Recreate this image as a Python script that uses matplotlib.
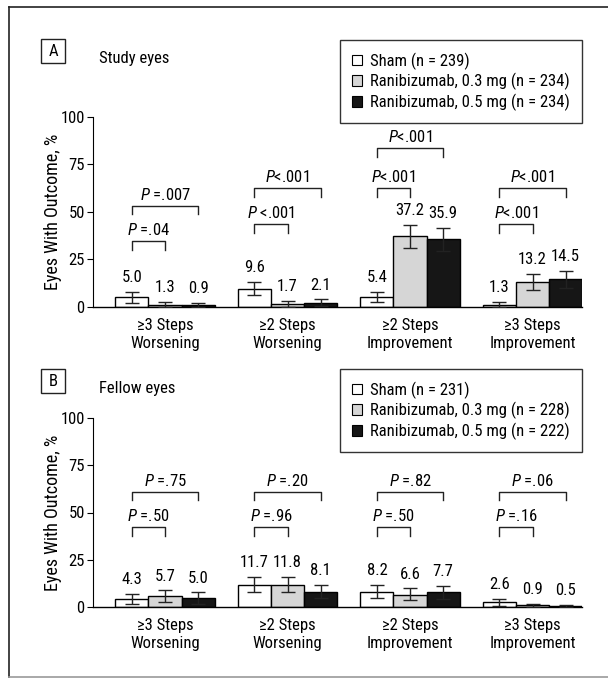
import numpy as np
import matplotlib
matplotlib.use('Agg')
import matplotlib.pyplot as plt
from matplotlib import font_manager
from matplotlib.patches import Rectangle, Patch
from matplotlib.lines import Line2D

# pick the narrowest family that is installed
fam = 'DejaVu Sans'
for f in ['Roboto Condensed', 'Liberation Sans Narrow', 'Roboto']:
    try:
        font_manager.findfont(f, fallback_to_default=False)
        fam = f
        break
    except ValueError:
        pass
fs = 12 if fam in ('Roboto Condensed', 'Liberation Sans Narrow') else 10

plt.rcParams['font.family'] = [fam, 'DejaVu Sans']
plt.rcParams['font.size'] = fs
plt.rcParams['mathtext.fontset'] = 'custom'
plt.rcParams['mathtext.it'] = fam + ':italic'
plt.rcParams['mathtext.rm'] = fam

categories = ['≥3 Steps\nWorsening', '≥2 Steps\nWorsening',
              '≥2 Steps\nImprovement', '≥3 Steps\nImprovement']

# panel A - study eyes
labels_a = ['Sham (n = 239)', 'Ranibizumab, 0.3 mg (n = 234)', 'Ranibizumab, 0.5 mg (n = 234)']
sham_a = [5.0, 9.6, 5.4, 1.3]
r03_a = [1.3, 1.7, 37.2, 13.2]
r05_a = [0.9, 2.1, 35.9, 14.5]
sham_a_lo = [2.3, 6.2, 2.6, 0.2]
sham_a_hi = [7.9, 13.3, 8.1, 2.8]
r03_a_lo = [0.2, 0.2, 31.0, 8.9]
r03_a_hi = [2.8, 3.3, 43.1, 17.4]
r05_a_lo = [0.1, 0.3, 29.7, 10.2]
r05_a_hi = [2.1, 4.0, 41.7, 18.9]
p_near_a = ['$\\mathit{P}$ =.04', '$\\mathit{P}$ <.001', '$\\mathit{P}$<.001', '$\\mathit{P}$<.001']
p_far_a = ['$\\mathit{P}$ =.007', '$\\mathit{P}$<.001', '$\\mathit{P}$<.001', '$\\mathit{P}$<.001']
near_lvl_a = [34.6, 43.5, 62.5, 43.5]
far_lvl_a = [53.3, 62.5, 83.5, 62.5]

# panel B - fellow eyes
labels_b = ['Sham (n = 231)', 'Ranibizumab, 0.3 mg (n = 228)', 'Ranibizumab, 0.5 mg (n = 222)']
sham_b = [4.3, 11.7, 8.2, 2.6]
r03_b = [5.7, 11.8, 6.6, 0.9]
r05_b = [5.0, 8.1, 7.7, 0.5]
sham_b_lo = [1.4, 7.8, 4.9, 0.5]
sham_b_hi = [7.1, 15.9, 11.6, 4.4]
r03_b_lo = [2.5, 7.8, 3.5, 0.1]
r03_b_hi = [8.8, 15.9, 9.9, 1.8]
r05_b_lo = [1.8, 4.8, 4.2, 0.1]
r05_b_hi = [7.8, 11.8, 11.1, 1.1]
p_near_b = ['$\\mathit{P}$ =.50', '$\\mathit{P}$ =.96', '$\\mathit{P}$ =.50', '$\\mathit{P}$ =.16']
p_far_b = ['$\\mathit{P}$ =.75', '$\\mathit{P}$ =.20', '$\\mathit{P}$ =.82', '$\\mathit{P}$ =.06']
near_lvl_b = [42.2, 42.2, 42.2, 42.2]
far_lvl_b = [61.0, 61.0, 61.0, 61.0]

colors = ['white', '#d6d6d6', '#161616']
W, H = 608, 679
fig = plt.figure(figsize=(W / 100, H / 100), dpi=100)


def fx(px):
    return px / W


def fy(py):
    return 1 - py / H


def panel(top, bot, vals, los, his, labels, p_near, p_far, near_lvl, far_lvl):
    ax = fig.add_axes([fx(93), fy(bot), fx(582) - fx(93), fy(top) - fy(bot)])
    x = np.arange(len(categories))
    w = 0.27
    for k in range(3):
        xs = x + (k - 1) * w
        v = np.array(vals[k])
        ax.bar(xs, v, w, color=colors[k], edgecolor='black', linewidth=1, label=labels[k], zorder=2)
        ax.errorbar(xs, v, yerr=[v - np.array(los[k]), np.array(his[k]) - v], fmt='none',
                    ecolor='#222222', elinewidth=1, capsize=5, capthick=1, zorder=3)
        for xi, vi, hi in zip(xs, v, his[k]):
            ax.text(xi, hi + 3.5, f'{vi:.1f}', ha='center', va='bottom')
    leg = 4.4
    for i in range(len(categories)):
        xa, xb, xc = x[i] - w, x[i], x[i] + w
        ax.plot([xa, xa, xb, xb], [near_lvl[i] - leg, near_lvl[i], near_lvl[i], near_lvl[i] - leg],
                color='#222222', lw=1, clip_on=False)
        ax.plot([xa, xa, xc, xc], [far_lvl[i] - leg, far_lvl[i], far_lvl[i], far_lvl[i] - leg],
                color='#222222', lw=1, clip_on=False)
        ax.annotate(p_near[i], (x[i] - w / 2, near_lvl[i]), xytext=(0, 8), textcoords='offset points',
                    ha='center', va='center')
        ax.annotate(p_far[i], (x[i], far_lvl[i]), xytext=(0, 8), textcoords='offset points',
                    ha='center', va='center')
    ax.set_xlim(-0.588, 3.404)
    ax.set_ylim(0, 100)
    ax.set_yticks([0, 25, 50, 75, 100])
    ax.set_xticks(x)
    ax.set_xticklabels(categories, linespacing=1.2)
    ax.tick_params(axis='x', length=0, pad=8)
    ax.tick_params(axis='y', length=4, width=0.8, pad=2)
    for s in ['top', 'right']:
        ax.spines[s].set_visible(False)
    ax.spines['left'].set_linewidth(0.8)
    ax.spines['bottom'].set_linewidth(1)
    ax.set_ylabel('Eyes With Outcome, %', fontsize=fs + 1)
    ax.yaxis.set_label_coords(-0.064, 0.5)
    return ax


ax_a = panel(117, 307, [sham_a, r03_a, r05_a], [sham_a_lo, r03_a_lo, r05_a_lo],
             [sham_a_hi, r03_a_hi, r05_a_hi], labels_a, p_near_a, p_far_a, near_lvl_a, far_lvl_a)
ax_b = panel(418, 607, [sham_b, r03_b, r05_b], [sham_b_lo, r03_b_lo, r05_b_lo],
             [sham_b_hi, r03_b_hi, r05_b_hi], labels_b, p_near_b, p_far_b, near_lvl_b, far_lvl_b)

for ax, labels, ltop, letter, title, ty in [
        (ax_a, labels_a, 40, 'A', 'Study eyes', 39),
        (ax_b, labels_b, 369, 'B', 'Fellow eyes', 369)]:
    handles = [Patch(facecolor=colors[k], edgecolor='black', linewidth=0.8) for k in range(3)]
    lg = ax.legend(handles, labels, loc='upper right', bbox_to_anchor=(fx(582), fy(ltop)),
                   bbox_transform=fig.transFigure, borderaxespad=0, fancybox=False,
                   edgecolor='#333333', framealpha=1, handlelength=0.6,
                   handleheight=0.6, handletextpad=0.45, labelspacing=0.2,
                   borderpad=0.75)
    lg.get_frame().set_linewidth(1)
    fig.patches.append(Rectangle((fx(41), fy(ty + 24)), fx(24), fy(ty) - fy(ty + 24),
                                 transform=fig.transFigure, fill=False, edgecolor='#222222', lw=1))
    fig.text(fx(53), fy(ty + 12), letter, ha='center', va='center')
    fig.text(fx(99), fy(ty + 20), title, ha='left', va='center')

# outer frame
fig.add_artist(Line2D([fx(8.5), fx(8.5)], [fy(7), fy(677)], color='#222222', lw=1.2))
fig.add_artist(Line2D([fx(8.5), 1], [fy(7), fy(7)], color='#222222', lw=1.2))
fig.add_artist(Line2D([fx(8.5), 1], [fy(677), fy(677)], color='#999999', lw=1.2))

fig.savefig('out.png', dpi=100)
